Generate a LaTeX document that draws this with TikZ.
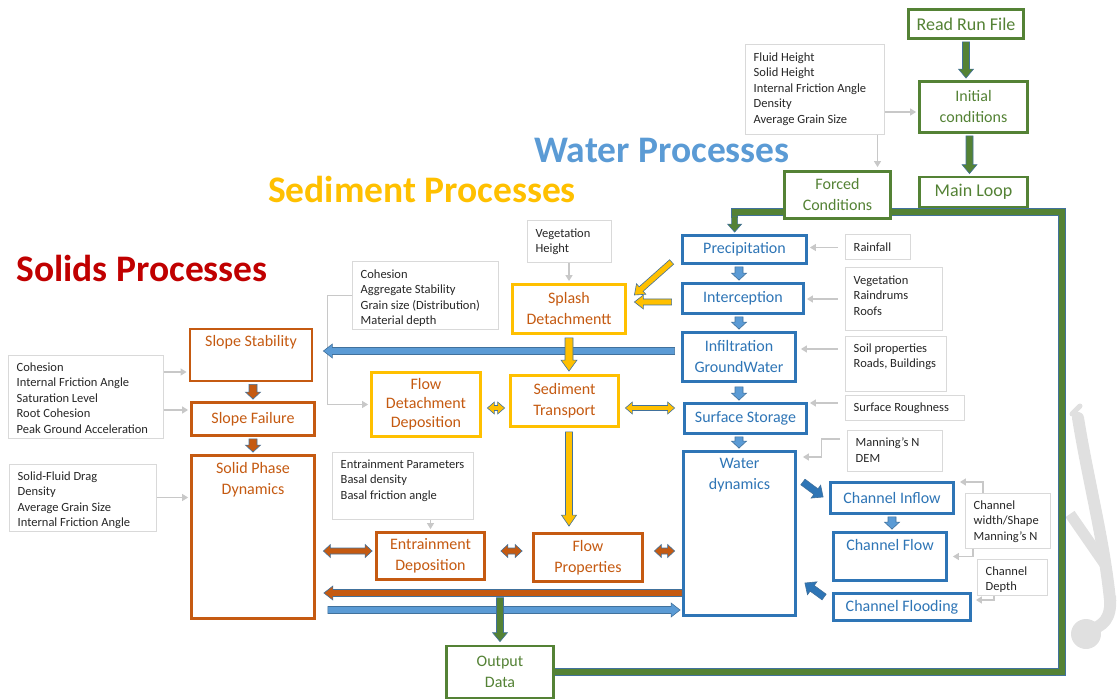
\documentclass[tikz,border=0pt]{standalone}
\usepackage{fontspec}
\setmainfont{Carlito}
\usetikzlibrary{calc,arrows.meta}
\pgfdeclarelayer{bg}
\pgfsetlayers{bg,main}
\definecolor{grn}{HTML}{548235}
\definecolor{blu}{HTML}{2E75B6}
\definecolor{lblu}{HTML}{5B9BD5}
\definecolor{olin}{HTML}{41719C}
\definecolor{orng}{HTML}{C55A11}
\definecolor{yel}{HTML}{FFC000}
\definecolor{dred}{HTML}{C00000}
\definecolor{lgr}{HTML}{D9D9D9}
\definecolor{agr}{HTML}{C8C8C8}
\definecolor{txt}{HTML}{262626}
\definecolor{wmk}{HTML}{E0E0E0}
\newcommand\boxfont{\fontsize{16}{21}\selectfont}
\newcommand\greyfont{\fontsize{12.5}{15.5}\selectfont}
\newcommand\titlefont{\fontsize{37.5}{37.5}\selectfont\bfseries}
% block arrow: style, from, to, half shaft, half head, head length
\newcommand\barrow[6]{%
  \coordinate (BAa) at #2;
  \coordinate (BAb) at #3;
  \coordinate (BAh) at ($(BAb)!#6pt!(BAa)$);
  \path[#1] ($(BAa)!#4pt!90:(BAb)$) -- ($(BAh)!#4pt!90:(BAb)$) -- ($(BAh)!#5pt!90:(BAb)$) -- (BAb)
    -- ($(BAh)!#5pt!-90:(BAb)$) -- ($(BAh)!#4pt!-90:(BAb)$) -- ($(BAa)!#4pt!-90:(BAb)$) -- cycle;
}
\newcommand\dbarrow[6]{%
  \coordinate (BAa) at #2;
  \coordinate (BAb) at #3;
  \coordinate (BAh) at ($(BAb)!#6pt!(BAa)$);
  \coordinate (BAg) at ($(BAa)!#6pt!(BAb)$);
  \path[#1] (BAa) -- ($(BAg)!#5pt!90:(BAb)$) -- ($(BAg)!#4pt!90:(BAb)$) -- ($(BAh)!#4pt!90:(BAb)$)
    -- ($(BAh)!#5pt!90:(BAb)$) -- (BAb) -- ($(BAh)!#5pt!-90:(BAb)$) -- ($(BAh)!#4pt!-90:(BAb)$)
    -- ($(BAg)!#4pt!-90:(BAb)$) -- ($(BAg)!#5pt!-90:(BAb)$) -- cycle;
}
\tikzset{
  gbox/.style={draw=grn, line width=2.8pt, fill=white, text=grn, align=center, font=\boxfont},
  bbox/.style={draw=blu, line width=2.8pt, fill=white, text=blu, align=center, font=\boxfont},
  obox/.style={draw=orng, line width=2.8pt, fill=white, text=orng, align=center, font=\boxfont},
  ybox/.style={draw=yel, line width=2.8pt, fill=white, text=orng, align=center, font=\boxfont},
  greybox/.style={draw=lgr, line width=1pt, fill=white},
  glab/.style={anchor=north west, align=left, inner sep=0pt, font=\greyfont, text=txt, xshift=9pt, yshift=-8pt},
  toplab/.style={anchor=north, inner sep=0pt, align=center, font=\boxfont, yshift=-8pt},
  garrow/.style={draw=agr, line width=1.2pt, -{Triangle[length=6pt,width=7pt]}},
  arr/.style={fill=#1, draw=olin, line width=0.6pt},
  gline/.style={draw=grn, line width=6pt, line join=miter, preaction={draw=olin, line width=7.2pt}},
}
\begin{document}
\begin{tikzpicture}[x=1pt,y=-1pt]
\useasboundingbox (0,0) rectangle (1118,700);

% titles
\node[font=\titlefont, text=lblu] (tw) at (662,150) {Water Processes};
\node[font=\titlefont, text=yel] (ts) at (422,189) {Sediment Processes};
\node[font=\titlefont, text=dred] (tsol) at (142,268) {Solids Processes};

% green
\node[gbox, minimum width=115pt, minimum height=29pt, font=\fontsize{18}{21}\selectfont] (rrf) at (966,24) {Read Run File};
\node[gbox, minimum width=108pt, minimum height=51pt] (ic) at (973.5,107) {Initial\\conditions};
\node[gbox, minimum width=108pt, minimum height=30pt, font=\fontsize{18}{21}\selectfont] (ml) at (973.5,192) {Main Loop};
\node[gbox, minimum width=106pt, minimum height=47pt] (fc) at (837.5,195) {Forced\\Conditions};
\node[gbox, minimum width=107pt, minimum height=52pt] (od) at (500,672) {Output\\Data};

% blue
\node[bbox, minimum width=124pt, minimum height=28pt] (prec) at (744.5,249.5) {Precipitation};
\node[bbox, minimum width=121pt, minimum height=30pt] (intc) at (743,298.5) {Interception};
\node[bbox, minimum width=113pt, minimum height=49pt] (inf) at (739,357) {Infiltration\\GroundWater};
\node[bbox, minimum width=122pt, minimum height=30pt] (ssto) at (745.5,418.5) {Surface Storage};
\node[bbox, minimum width=112pt, minimum height=164pt, label={[toplab,text=blu]north:{Water\\dynamics}}] (wd) at (739.5,533.5) {};
\node[bbox, minimum width=123pt, minimum height=31pt] (ci) at (892,498) {Channel Inflow};
\node[bbox, minimum width=113pt, minimum height=48pt, label={[toplab,text=blu]north:{Channel Flow}}] (cf) at (890,556.5) {};
\node[bbox, minimum width=137pt, minimum height=27pt] (cfl) at (902,607) {Channel Flooding};

% orange
\node[obox, minimum width=122pt, minimum height=52pt, label={[toplab,text=orng]north:{Slope Stability}}] (sst) at (251,355) {};
\node[obox, minimum width=123pt, minimum height=33pt] (sf) at (253,419) {Slope Failure};
\node[obox, minimum width=123pt, minimum height=163pt, label={[toplab,text=orng]north:{Solid Phase\\Dynamics}}] (spd) at (253,537) {};
\node[obox, minimum width=108pt, minimum height=47pt] (ed) at (430.5,556) {Entrainment\\Deposition};
\node[obox, minimum width=109pt, minimum height=48pt] (fp) at (588,557.5) {Flow\\Properties};

% yellow
\node[ybox, minimum width=113pt, minimum height=49pt] (sd) at (569,309) {Splash\\Detachmentt};
\node[ybox, minimum width=108pt, minimum height=51pt] (st) at (564.5,401) {Sediment\\Transport};
\node[ybox, minimum width=109pt, minimum height=64pt, font=\fontsize{16}{19}\selectfont] (fdd) at (426,404.5) {Flow\\Detachment\\Deposition};

% grey parameter boxes
\node[greybox, minimum width=139pt, minimum height=90pt, label={[glab]north west:{Fluid Height\\Solid Height\\Internal Friction Angle\\Density\\Average Grain Size}}] (gic) at (814.5,90) {};
\node[greybox, minimum width=84pt, minimum height=42pt, label={[glab]north west:{Vegetation\\Height}}] (gveg) at (569,242) {};
\node[greybox, minimum width=146pt, minimum height=67pt, label={[glab]north west:{Cohesion\\Aggregate Stability\\Grain size (Distribution)\\Material depth}}] (gcoh) at (425,295.5) {};
\node[greybox, minimum width=155pt, minimum height=83pt, label={[glab]north west:{Cohesion\\Internal Friction Angle\\Saturation Level\\Root Cohesion\\Peak Ground Acceleration}}] (gsl) at (85.5,396.5) {};
\node[greybox, minimum width=147pt, minimum height=67pt, label={[glab]north west:{Solid-Fluid Drag\\Density\\Average Grain Size\\Internal Friction Angle}}] (gsfd) at (82.5,497.5) {};
\node[greybox, minimum width=141pt, minimum height=67pt, label={[glab]north west:{Entrainment Parameters\\Basal density\\Basal friction angle}}] (gent) at (402.5,485.5) {};
\node[greybox, minimum width=65pt, minimum height=25pt, label={[glab]north west:{Rainfall}}] (grain) at (877.5,247.5) {};
\node[greybox, minimum width=97pt, minimum height=62pt, label={[glab]north west:{Vegetation\\Raindrums\\Roofs}}] (gveg2) at (893.5,299) {};
\node[greybox, minimum width=101pt, minimum height=55pt, label={[glab]north west:{Soil properties\\Roads, Buildings}}] (gsoil) at (895.5,363.5) {};
\node[greybox, minimum width=119pt, minimum height=25pt, label={[glab]north west:{Surface Roughness}}] (gsr) at (904.5,407.5) {};
\node[greybox, minimum width=95pt, minimum height=41pt, label={[glab]north west:{Manning’s N\\DEM}}] (gman) at (894.5,450.5) {};
\node[greybox, minimum width=85pt, minimum height=55pt, label={[glab]north west:{Channel\\width/Shape\\Manning’s N}}] (gch) at (1007.5,520.5) {};
\node[greybox, minimum width=70pt, minimum height=36pt, label={[glab]north west:{Channel\\Depth}}] (gcd) at (1012,577) {};

% background: watermark and main loop line
\begin{pgfonlayer}{bg}
  \draw[wmk, line width=12pt, line cap=round] (1078,418) .. controls (1088,480) and (1104,540) .. (1110,600);
  \draw[wmk, line width=11pt] (1070,514) -- (1106,566);
  \draw[wmk, line width=12pt] (1110,596) .. controls (1112,620) and (1102,626) .. (1090,630);
  \fill[wmk] (1086,634) circle (15);
  \draw[wmk, line width=5pt, line cap=round] (1072,414) -- (1080,406);
  \draw[gline] ($(fc.west)+(0,17)$) -| ($(prec.north west)+(53.5,-16)$);
  \draw[gline] ($(fc.east)+(0,17)$) -- (1062,212) -- (1062,672) -- (od.east);
\end{pgfonlayer}

% grey arrows
\draw[garrow, shorten >=2pt] ($(gic.east)+(0,22)$) -- ($(ic.west)+(0,5)$);
\coordinate (gfc) at ($(gic.south east)+(-7,0)$);
\draw[garrow, shorten >=3pt] (gfc) -- (gfc |- fc.north);
\draw[garrow, shorten >=2pt] (gveg.south) -- (sd.north);
\draw[garrow, shorten >=2pt] (gcoh.west) -- ++(-24,0) |- (fdd.west);
\draw[garrow, shorten >=2pt] ($(gsl.east)+(0,-24.5)$) -- ($(sst.west)+(0,17)$);
\draw[garrow, shorten >=2pt] ($(gsl.east)+(0,13.5)$) -- ($(sf.west)+(0,-9)$);
\draw[garrow, shorten >=2pt] (gsfd.east) -- (gsfd.east -| spd.west);
\draw[garrow, shorten >=2pt] (gent.south -| ed.north) -- (ed.north);
\draw[garrow, shorten <=7pt, shorten >=2pt] (grain.west) -- (grain.west -| prec.east);
\draw[garrow, shorten <=7pt, shorten >=2pt] (gveg2.west) -- (gveg2.west -| intc.east);
\draw[garrow, shorten <=7pt, shorten >=4pt] ($(gsoil.west)+(0,-14.5)$) -- ($(gsoil.west -| inf.east)+(0,-14.5)$);
\draw[garrow, shorten <=7pt, shorten >=2pt] ($(gsr.west)+(0,-4.5)$) -- ($(gsr.west -| ssto.east)+(0,-4.5)$);
\draw[garrow, shorten <=7pt, shorten >=6pt] ($(gman.west)+(0,-11.5)$) -- ++(-25,0) |- ($(wd.east)+(0,-76.5)$);
\draw[garrow, shorten >=5pt] ($(gch.north)+(-24.5,0)$) |- ($(ci.east)+(0,-16)$);
\draw[garrow, shorten >=5pt] ($(gch.south)+(-34.5,0)$) |- (cf.east);
\draw[garrow, shorten >=4pt] ($(gcd.south)+(-18,0)$) |- ($(cfl.east)+(0,-7)$);

% green block arrows
\barrow{arr=grn}{($(rrf.south)+(0,2)$)}{($(rrf.south |- ic.north)+(0,-2)$)}{3.5}{7.5}{9}
\barrow{arr=grn}{($(ic.south)+(-4,2)$)}{($(ic.south |- ml.north)+(-4,-2)$)}{3.5}{7.5}{9}
\barrow{arr=grn}{($(prec.north west)+(53.5,-18)$)}{($(prec.north west)+(53.5,-2)$)}{3}{7}{8}

% water arrows
\coordinate (wx) at (inf.north);
\barrow{arr=lblu}{($(wx |- prec.south)+(0,2)$)}{($(wx |- intc.north)+(0,-2)$)}{4}{7.5}{7}
\barrow{arr=lblu}{($(wx |- intc.south)+(0,2)$)}{($(wx |- inf.north)+(0,-2)$)}{4}{7.5}{7}
\barrow{arr=lblu}{($(wx |- inf.south)+(0,4)$)}{($(wx |- ssto.north)+(0,-2)$)}{4}{7.5}{7}
\barrow{arr=lblu}{($(wx |- ssto.south)+(0,2)$)}{($(wx |- wd.north)+(0,-2)$)}{4}{7.5}{7}
\barrow{arr=lblu}{($(ci.south)+(0,2)$)}{($(ci.south |- cf.north)+(0,-2)$)}{4}{7.5}{7}
\barrow{arr=blu}{($(wd.east)+(6,-51.5)$)}{($(ci.west)+(-6,-1)$)}{3.5}{8}{9}
\barrow{arr=blu}{($(cfl.west)+(-8,-10)$)}{($(wd.east)+(8,49.5)$)}{3.5}{8}{9}
\barrow{arr=lblu}{($(inf.west)+(-6.5,-6)$)}{($(inf.west -| sst.east)+(10,-6)$)}{3.5}{7}{9}

% sediment arrows
\barrow{arr=yel}{($(sd.south)+(0,3)$)}{($(sd.south |- st.north)+(0,-3)$)}{4}{8}{11}
\barrow{arr=yel}{($(prec.west)+(-9.5,12.5)$)}{($(sd.east)+(7.5,-14)$)}{3}{7}{9}
\barrow{arr=yel}{($(intc.west)+(-9.5,3.5)$)}{($(intc.west -| sd.east)+(7.5,3.5)$)}{3}{7}{9}
\dbarrow{arr=yel}{($(fdd.east)+(5.5,3.5)$)}{($(fdd.east -| st.west)+(-4.5,3.5)$)}{2.5}{6}{7}
\dbarrow{arr=yel}{($(st.east)+(5.5,7)$)}{($(st.east -| ssto.west)+(-8.5,7)$)}{2.5}{6}{7}
\barrow{arr=yel}{($(sd.south |- st.south)+(0,4)$)}{($(sd.south |- fp.north)+(0,-6)$)}{3.5}{7.5}{11}

% solids arrows
\barrow{arr=orng}{($(sf.north |- sst.south)+(0,2)$)}{($(sf.north)+(0,-2)$)}{4}{7.5}{7}
\barrow{arr=orng}{($(sf.south)+(0,2)$)}{($(sf.south |- spd.north)+(0,-2)$)}{4}{7.5}{7}
\dbarrow{arr=orng}{($(spd.east)+(7.5,14)$)}{($(ed.west)+(-3,-5)$)}{3}{6.5}{7}
\dbarrow{arr=orng}{($(ed.east)+(15,-5)$)}{($(ed.east -| fp.west)+(-10,-5)$)}{3}{6.5}{7}
\dbarrow{arr=orng}{($(fp.east)+(10.5,-6.5)$)}{($(fp.east -| wd.west)+(-7.5,-6.5)$)}{3}{6.5}{7}

% long arrows and output
\barrow{arr=lblu}{($(spd.east)+(12,73)$)}{($(spd.east -| wd.west)+(-2,73)$)}{3.5}{7}{9}
\barrow{arr=grn}{($(od.north)+(0,-47)$)}{($(od.north)+(0,-3)$)}{3.5}{7.5}{9}
\barrow{arr=orng}{($(wd.west)+(0,59.5)$)}{($(wd.west -| spd.east)+(8,59.5)$)}{3.5}{7}{9}
\end{tikzpicture}
\end{document}
